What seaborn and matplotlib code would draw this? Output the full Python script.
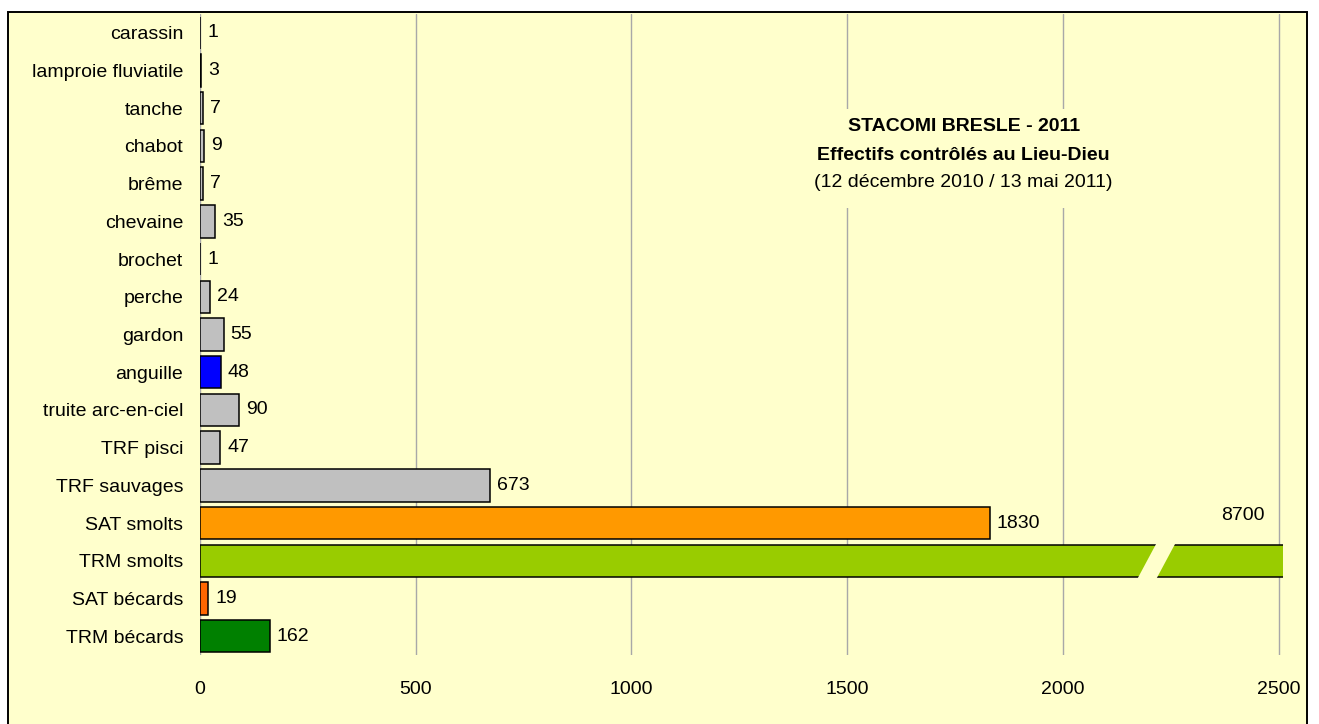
import numpy as np
import pandas as pd
import matplotlib.pyplot as plt
from matplotlib.patches import Rectangle, Polygon
import seaborn as sns

# effectifs controles au Lieu-Dieu (Bresle) - 2011
especes = ['carassin', 'lamproie fluviatile', 'tanche', 'chabot', 'brême',
           'chevaine', 'brochet', 'perche', 'gardon', 'anguille',
           'truite arc-en-ciel', 'TRF pisci', 'TRF sauvages', 'SAT smolts',
           'TRM smolts', 'SAT bécards', 'TRM bécards']
effectifs = [1, 3, 7, 9, 7, 35, 1, 24, 55, 48, 90, 47, 673, 1830, 8700, 19, 162]
couleurs = ['#C0C0C0', '#C0C0C0', '#C0C0C0', '#C0C0C0', '#C0C0C0',
            '#C0C0C0', '#C0C0C0', '#C0C0C0', '#C0C0C0', '#0000FF',
            '#C0C0C0', '#C0C0C0', '#C0C0C0', '#FF9900',
            '#99CC00', '#FF6600', '#008000']
x_ticks = [0, 500, 1000, 1500, 2000, 2500]

titre_1 = 'STACOMI BRESLE - 2011'
titre_2 = 'Effectifs contrôlés au Lieu-Dieu'
sous_titre = '(12 décembre 2010 / 13 mai 2011)'

x_max = 2510
coupure = 2173      # debut de la coupure sur la barre tronquee
bg = '#FFFFCC'

sns.set_style('white')
plt.rcParams['font.family'] = ['Liberation Sans', 'DejaVu Sans']
plt.rcParams['text.color'] = 'black'
plt.rcParams['xtick.color'] = 'black'
plt.rcParams['ytick.color'] = 'black'

df = pd.DataFrame({'espece': especes, 'effectif': effectifs})

fig = plt.figure(figsize=(13.19, 7.24), dpi=100)
fig.patch.set_facecolor('white')
fig.patches.append(Rectangle((8/1319, -0.01), 1299/1319, 1 - 12/724 + 0.01,
                             transform=fig.transFigure, facecolor=bg,
                             edgecolor='black', lw=1.4, zorder=-1))

ax = fig.add_axes([200/1319, 1 - 655/724, 1083/1319, 641/724])
ax.set_facecolor(bg)

sns.barplot(data=df, x='effectif', y='espece', hue='espece',
            palette=dict(zip(especes, couleurs)), orient='h', width=0.86,
            edgecolor='black', linewidth=1.1, legend=False, saturation=1,
            ax=ax)

ax.set_xlim(0, x_max)
ax.set_xticks(x_ticks)
ax.xaxis.grid(True, color='#A8A8A8', lw=1)
ax.set_axisbelow(True)
for s in ax.spines.values():
    s.set_visible(False)
ax.tick_params(axis='x', length=0, pad=19, labelsize=14)
ax.tick_params(axis='y', length=0, pad=12, labelsize=14)
ax.set_xlabel('')
ax.set_ylabel('')

# etiquettes de valeurs
for i, v in enumerate(effectifs):
    if v > x_max:
        # barre tronquee : coupure et valeur au-dessus
        h = 0.47
        d = 44
        ax.add_patch(Polygon([(coupure, i + h), (coupure + d, i + h),
                              (coupure + 2*d, i - h), (coupure + d, i - h)],
                             closed=True, facecolor=bg, edgecolor='none',
                             zorder=5))
        ax.text(2468, i - 1.2, str(v), ha='right', va='center', fontsize=14)
    else:
        ax.annotate(str(v), (v, i), xytext=(5, 0), textcoords='offset points',
                    ha='left', va='center', fontsize=14)

# titre dans le graphique (fond jaune qui masque le quadrillage)
ax.add_patch(Rectangle((1367, 2.02), 811, 2.62, facecolor=bg,
                       edgecolor='none', zorder=1.5))
ax.text(1770, 2.49, titre_1, ha='center', va='center', fontsize=14,
        fontweight='bold', zorder=6)
ax.text(1770, 3.24, titre_2, ha='center', va='center', fontsize=14,
        fontweight='bold', zorder=6)
ax.text(1770, 3.98, sous_titre, ha='center', va='center', fontsize=14,
        zorder=6)

fig.savefig('out.png', dpi=100)
